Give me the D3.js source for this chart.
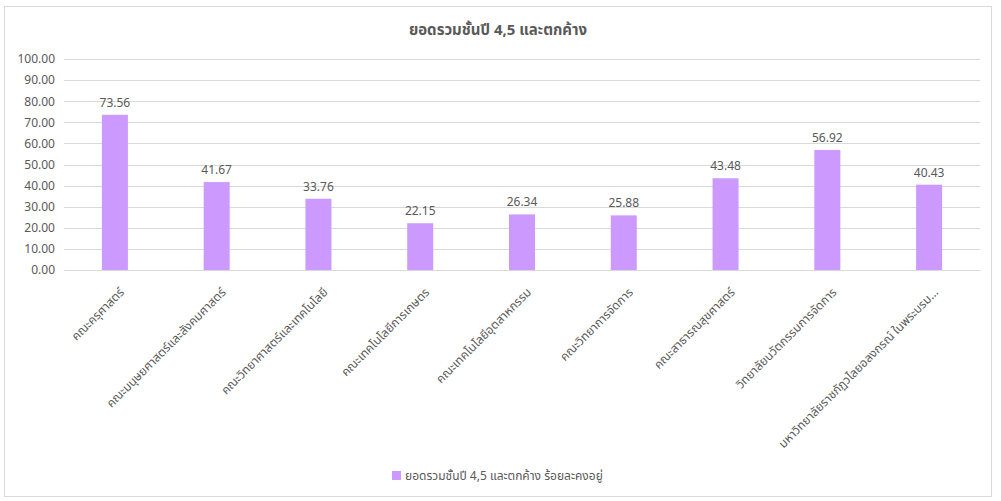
<!DOCTYPE html>
<html><head><meta charset="utf-8">
<script src="https://cdn.jsdelivr.net/npm/d3@7"></script>
<style>
body{margin:0;background:#fff;}
svg text{font-family:"Noto Sans Thai","Leelawadee UI","Noto Sans","DejaVu Sans",sans-serif;}
</style></head>
<body><svg id="c" width="1001" height="501"></svg>
<script>
const categories = ["คณะครุศาสตร์","คณะมนุษยศาสตร์และสังคมศาสตร์","คณะวิทยาศาสตร์และเทคโนโลยี","คณะเทคโนโลยีการเกษตร","คณะเทคโนโลยีอุตสาหกรรม","คณะวิทยาการจัดการ","คณะสาธารณสุขศาสตร์","วิทยาลัยนวัตกรรมการจัดการ","มหาวิทยาลัยราชภัฏวไลยอลงกรณ์ ในพระบรม..."];
const values = [73.56,41.67,33.76,22.15,26.34,25.88,43.48,56.92,40.43];
const yTicks = [0,10,20,30,40,50,60,70,80,90,100];
const title = "ยอดรวมชั้นปี 4,5 และตกค้าง";
const seriesName = "ยอดรวมชั้นปี 4,5 และตกค้าง ร้อยละคงอยู่";

const svg = d3.select("#c");
const textColor = "#595959";
svg.append("rect").attr("x",4.5).attr("y",6.5).attr("width",987).attr("height",490)
  .attr("fill","#fff").attr("stroke","#d9d9d9");

const x = d3.scaleBand().domain(categories).range([64,980]).paddingInner(0).paddingOuter(0);
const y = d3.scaleLinear().domain([0,100]).range([270,59]);

// gridlines
svg.append("g").selectAll("line").data(yTicks).join("line")
  .attr("x1",64).attr("x2",980).attr("y1",d=>Math.round(y(d))+0.5).attr("y2",d=>Math.round(y(d))+0.5)
  .attr("stroke","#d9d9d9").attr("stroke-width",1);

// y axis labels
const yAxis = d3.axisLeft(y).tickValues(yTicks).tickFormat(d3.format(".2f")).tickSize(0).tickPadding(8);
const ga = svg.append("g").attr("transform","translate(64,0)").call(yAxis);
ga.select(".domain").remove();
ga.selectAll("text").attr("fill",textColor).style("font-size","12px").attr("x",-9);

// bars
const bw = 26;
svg.append("g").selectAll("rect").data(values).join("rect")
  .attr("x",(d,i)=>x(categories[i])+x.bandwidth()/2-bw/2)
  .attr("width",bw)
  .attr("y",d=>y(d)).attr("height",d=>y(0)-y(d))
  .attr("fill","#cc99ff");

// data labels
svg.append("g").selectAll("text").data(values).join("text")
  .attr("x",(d,i)=>x(categories[i])+x.bandwidth()/2)
  .attr("y",d=>y(d)-8)
  .attr("text-anchor","middle").attr("fill",textColor).style("font-size","12px")
  .text(d=>d.toFixed(2));

// x labels
const xAxis = d3.axisBottom(x).tickSize(0).tickPadding(0);
const gx = svg.append("g").attr("transform","translate(0,270)").call(xAxis);
gx.select(".domain").attr("stroke","#d9d9d9");
gx.selectAll("text")
  .attr("fill",textColor).style("font-size","12px")
  .attr("text-anchor","end").attr("dy",null).attr("y",0)
  .attr("transform","translate(10,23) rotate(-45)");

// title
svg.append("text").attr("x",498).attr("y",35).attr("text-anchor","middle")
  .attr("fill",textColor).style("font-size","15px").style("font-weight","bold").text(title);

// legend
svg.append("rect").attr("x",392).attr("y",471).attr("width",9).attr("height",9).attr("fill","#cc99ff");
svg.append("text").attr("x",405).attr("y",480).attr("fill",textColor).style("font-size","12px").text(seriesName);
</script></body></html>
